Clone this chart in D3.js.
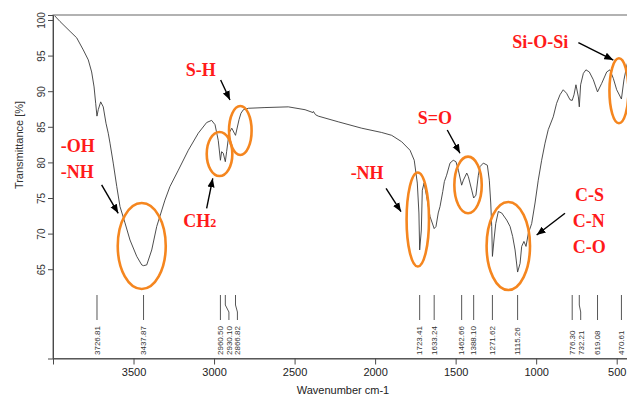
<!DOCTYPE html>
<html><head><meta charset="utf-8">
<script src="https://cdn.jsdelivr.net/npm/d3@7"></script>
<style>body{margin:0;background:#fff}</style>
</head><body>
<svg id="c" width="627" height="400"></svg>
<script>
// ---- Data ----
const wavenumber = [3990,3957,3894,3853,3812,3781,3760,3745,3735,3727,3719,3704,3688,3671,3657,3646,3626,3604,3584,3553,3522,3480,3449,3438,3418,3387,3356,3305,3274,3222,3160,3098,3046,3015,2994,2974,2960.5,2953,2943,2930.1,2922,2907,2890,2874,2866.8,2845,2833,2818,2787,2684,2539,2435,2386,2383,2370,2353,2229,2083,1959,1897,1835,1783,1757,1738,1728,1723.4,1713,1707,1696,1680,1659,1633.2,1622,1608,1597,1580,1570,1556,1535,1515,1498,1483,1462.7,1452,1431,1421,1400,1388.1,1374,1359,1349,1328,1303,1291,1282,1276,1271.6,1262,1251,1235,1214,1183,1162,1146,1131,1115.3,1100,1090,1076,1063,1049,1028,1007,987,966,945,925,894,873,852,832,811,790,776.3,765,753,738,732.2,724,707,691,670,645,619.1,593,562,542,521,500,470.6,455,436,418];
const transmittance = [100.6,99.8,98.4,97.5,95.8,94.4,92.7,90.6,88.3,86.5,87.4,88.5,87.8,85.5,84.1,82.7,79.9,76.6,73.8,71.5,69.1,66.8,65.6,65.5,65.6,67.7,71.0,74.7,76.6,78.9,81.7,84.1,85.6,85.9,85.3,83.1,80.3,81.5,81.3,80.1,81.5,84.1,84.8,84.1,83.8,86.0,86.9,87.4,87.6,87.7,87.8,87.4,87.0,87.15,86.7,86.5,85.7,84.8,84.2,83.8,82.9,81.7,80.3,77.1,72.9,67.7,70.5,76.1,77.1,75.2,72.4,70.7,71.0,72.9,73.8,75.9,77.3,78.2,79.9,80.3,80.1,78.9,76.8,77.5,78.5,78.0,76.1,75.0,75.4,78.2,79.4,79.9,79.6,77.5,74.3,71.0,66.8,69.1,71.4,73.1,72.9,71.9,71.0,69.6,67.7,64.6,65.8,68.2,68.9,68.2,70.0,71.4,74.3,77.5,80.3,82.7,84.6,86.4,88.3,89.5,90.2,89.7,88.8,88.7,89.5,90.9,89.2,87.8,90.9,92.5,93.0,92.7,91.6,89.9,91.1,92.7,93.0,91.8,90.2,88.9,91.6,93.7,95.1];

const peakWavenumbers = [3726.81,3437.87,2960.50,2930.10,2866.82,1723.41,1633.24,1462.66,1388.10,1271.62,1115.26,776.30,732.21,619.08,470.61];
const peakLabels = ["3726.81","3437.87","2960.50","2930.10","2866.82","1723.41","1633.24","1462.66","1388.10","1271.62","1115.26","776.30","732.21","619.08","470.61"];

const xTicks = [3500,3000,2500,2000,1500,1000,500];
const yTicks = [65,70,75,80,85,90,95,100];

// Group annotations (text, position in data units)
const groupTexts = ["-OH","-NH","S-H","CH","-NH","S=O","C-S","C-N","C-O","Si-O-Si"];
const groupTextWn = [3952,3952,3176,3191,2152,1736,759,773,773,1148];
const groupTextT  = [81.46,77.81,92.13,70.93,77.67,85.39,74.58,70.93,67.28,96.07];

// Ellipses round the bands: centre in data units
const ellipseWn = [3449,2966,2837,1735,1423,1173,486];
const ellipseT  = [68.26,81.18,84.48,71.98,76.83,68.26,90.06];
const ellipseRx = [24,12.8,11.3,11.2,13.7,21.7,9.5];
const ellipseRy = [43,22,24.5,47,28.3,44,32.5];

// Arrows: from -> to in data units
const arrowFromWn = [3698,3046,2959,1932,1552,821,738];
const arrowFromT  = [76.83,73.55,91.57,76.36,84.55,72.85,96.81];
const arrowToWn   = [3595,3008,2901,1839,1473,997,521];
const arrowToT    = [72.85,77.77,88.76,73.08,81.28,69.80,94.38];

// ---- Drawing ----
const svg = d3.select("#c");
const L = 53, T0 = 15, B = 358.5, R = 632.8;
const x = d3.scaleLinear().domain([4000,400]).range([L,R]);
const y = d3.scaleLinear().domain([52.46,100.7]).range([B,T0]);
const axisColor = "#4a4a4a";

// frame
svg.append("rect").attr("x",L).attr("y",T0).attr("width",R-L).attr("height",B-T0)
  .attr("fill","none").attr("stroke","#666").attr("stroke-width",1);

// x axis
const gx = svg.append("g").attr("transform",`translate(0,${B})`)
  .call(d3.axisBottom(x).tickValues(xTicks).tickSize(6).tickPadding(4).tickFormat(d3.format("d")));
gx.select(".domain").attr("stroke",axisColor);
gx.selectAll(".tick line").attr("stroke",axisColor);
gx.selectAll("text").attr("font-family","Liberation Sans, Arial, sans-serif").attr("font-size",11).attr("fill","#222");

// y axis
const gy = svg.append("g").attr("transform",`translate(${L},0)`)
  .call(d3.axisLeft(y).tickValues(yTicks).tickSize(5));
gy.select(".domain").attr("stroke",axisColor);
gy.selectAll(".tick line").attr("stroke",axisColor);
gy.selectAll("text").attr("x",null).attr("dy",null)
  .attr("transform","translate(-8,0) rotate(-90)")
  .attr("text-anchor","middle")
  .attr("font-family","Liberation Sans, Arial, sans-serif").attr("font-size",10).attr("fill","#333");

// axis titles
svg.append("text").attr("x",343).attr("y",394).attr("text-anchor","middle")
  .attr("font-family","Liberation Sans, Arial, sans-serif").attr("font-size",11).attr("fill","#222")
  .text("Wavenumber cm-1");
svg.append("text").attr("transform","translate(23,145) rotate(-90)").attr("text-anchor","middle")
  .attr("font-family","Liberation Sans, Arial, sans-serif").attr("font-size",11).attr("fill","#333")
  .text("Transmittance [%]");

// spectrum
const pts = wavenumber.map((w,i)=>[w,transmittance[i]]);
svg.append("defs").append("clipPath").attr("id","clip")
  .append("rect").attr("x",L).attr("y",T0).attr("width",R-L).attr("height",B-T0);
svg.append("path").datum(pts).attr("clip-path","url(#clip)")
  .attr("fill","none").attr("stroke","#3a3a3a").attr("stroke-width",0.9)
  .attr("d",d3.line().x(d=>x(d[0])).y(d=>y(d[1])));

// peak markers
const px = peakWavenumbers.map(w=>x(w));
const lx = [];
px.forEach((v,i)=>{ lx.push(i===0 ? v : Math.max(v, lx[i-1]+8.5)); });
const gp = svg.append("g");
px.forEach((v,i)=>{
  gp.append("path").attr("d",`M${v},295 L${v},305 L${lx[i]},312 L${lx[i]},320`)
    .attr("fill","none").attr("stroke","#444").attr("stroke-width",0.9);
  gp.append("text").attr("transform",`translate(${lx[i]},355) rotate(-90)`)
    .attr("dy","0.35em").attr("text-anchor","start")
    .attr("font-family","Liberation Sans, Arial, sans-serif").attr("font-size",8).attr("fill","#333")
    .text(peakLabels[i]);
});

// ellipses
ellipseWn.forEach((w,i)=>{
  svg.append("ellipse").attr("cx",x(w)).attr("cy",y(ellipseT[i]))
    .attr("rx",ellipseRx[i]).attr("ry",ellipseRy[i])
    .attr("fill","none").attr("stroke","#f5861f").attr("stroke-width",2.6);
});

// arrows
svg.select("defs").append("marker").attr("id","ah").attr("viewBox","0 0 10 10")
  .attr("refX",10).attr("refY",5).attr("markerWidth",9).attr("markerHeight",9)
  .attr("markerUnits","userSpaceOnUse").attr("orient","auto")
  .append("path").attr("d","M0,1 L10,5 L0,9 Z").attr("fill","#000");
arrowFromWn.forEach((w,i)=>{
  svg.append("line").attr("x1",x(w)).attr("y1",y(arrowFromT[i]))
    .attr("x2",x(arrowToWn[i])).attr("y2",y(arrowToT[i]))
    .attr("stroke","#000").attr("stroke-width",1.4).attr("marker-end","url(#ah)");
});

// group labels
groupTexts.forEach((t,i)=>{
  const tx = svg.append("text").attr("x",x(groupTextWn[i])).attr("y",y(groupTextT[i]))
    .attr("font-family","Liberation Serif, Times New Roman, serif").attr("font-weight","bold")
    .attr("font-size",18).attr("fill","#ff1a1a").text(t);
  if (t==="CH") tx.append("tspan").attr("font-size",12).text("2");
});
</script>
</body></html>
